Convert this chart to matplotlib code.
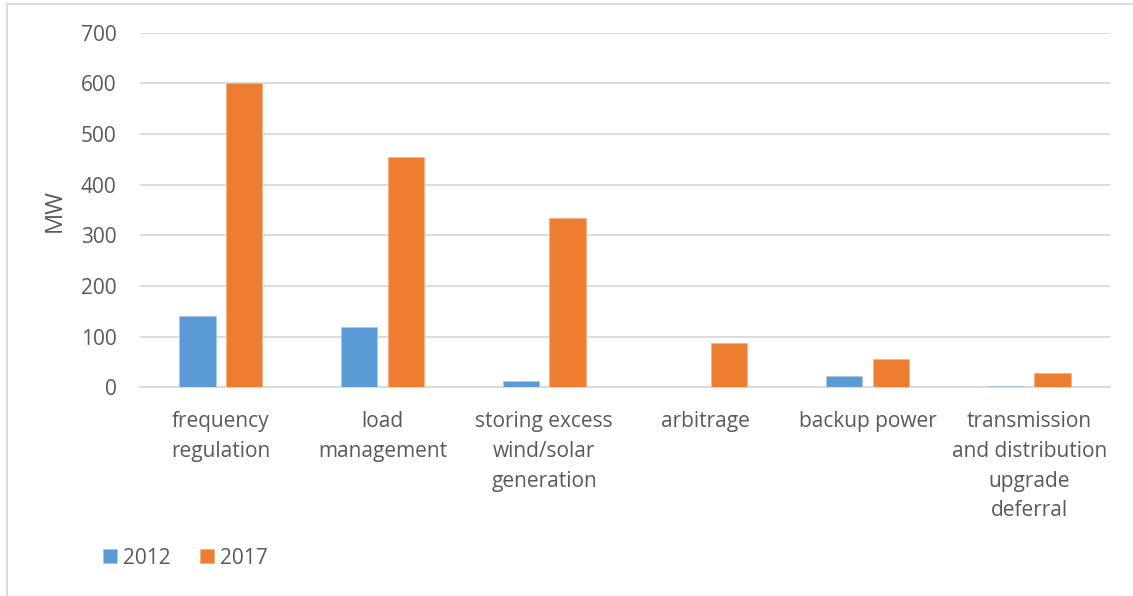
import matplotlib
matplotlib.use("Agg")
import matplotlib.pyplot as plt
import numpy as np
from matplotlib.patches import Rectangle

categories = [
    "frequency\nregulation",
    "load\nmanagement",
    "storing excess\nwind/solar\ngeneration",
    "arbitrage",
    "backup power",
    "transmission\nand distribution\nupgrade\ndeferral",
]
mw_2012 = [140, 120, 13, 0, 22, 2.5]
mw_2017 = [600, 455, 335, 87, 55, 29]
series_labels = ["2012", "2017"]
y_ticks = [0, 100, 200, 300, 400, 500, 600, 700]

BLUE = "#5b9bd5"
ORANGE = "#ed7d31"
TEXT = "#595959"
GRID = "#d9d9d9"

plt.rcParams["font.family"] = ["Open Sans", "DejaVu Sans"]

W, H = 1133, 596
fig = plt.figure(figsize=(W / 100, H / 100), dpi=100)
ax = fig.add_axes([140 / W, 1 - 387.3 / H, (1110 - 140) / W, (387.3 - 32.7) / H])

x = np.arange(len(categories))
bw = 0.225
off = bw / 2 + 0.031
ax.bar(x - off, mw_2012, bw, color=BLUE, edgecolor="#a9c8e8", linewidth=0.6,
       label=series_labels[0], zorder=3)
ax.bar(x + off, mw_2017, bw, color=ORANGE, edgecolor="#f4b183", linewidth=0.6,
       label=series_labels[1], zorder=3)

ax.set_xlim(-0.5, len(categories) - 0.5)
ax.set_ylim(0, 700)
ax.set_yticks(y_ticks)
ax.yaxis.grid(True, color=GRID, linewidth=1.3, zorder=0)
ax.set_axisbelow(True)
for s in ["top", "right", "left"]:
    ax.spines[s].set_visible(False)
ax.spines["bottom"].set_color(GRID)
ax.spines["bottom"].set_linewidth(1.3)
ax.tick_params(axis="both", length=0, labelsize=15, colors=TEXT)
ax.tick_params(axis="y", pad=17)
ax.set_xticks(x)
ax.set_xticklabels(categories, linespacing=1.55)
ax.tick_params(axis="x", pad=17)
ax.set_ylabel("MW", fontsize=17, color=TEXT, labelpad=10)

leg = fig.legend(loc="center left", bbox_to_anchor=(84 / W, 1 - 558 / H), ncol=2,
                 frameon=False, fontsize=15, handlelength=0.67, handleheight=0.67,
                 handletextpad=0.3, columnspacing=1.4, labelcolor=TEXT)

# chart frame
fig.patches.append(Rectangle((7 / W, -0.1), 1.2, 1 - 3.5 / H + 0.1, transform=fig.transFigure,
                             fill=False, edgecolor=GRID, linewidth=1.3))

fig.savefig("out.png", dpi=100, facecolor="white")
